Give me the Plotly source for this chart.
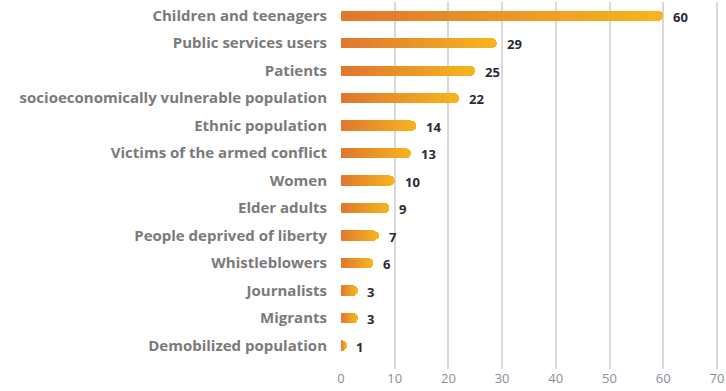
import plotly.graph_objects as go

# Categories listed bottom-to-top (first item sits at the bottom of the chart)
groups = [
    "Demobilized population",
    "Migrants",
    "Journalists",
    "Whistleblowers",
    "People deprived of liberty",
    "Elder adults",
    "Women",
    "Victims of the armed conflict",
    "Ethnic population",
    "socioeconomically vulnerable population",
    "Patients",
    "Public services users",
    "Children and teenagers",
]
counts = [1, 3, 3, 6, 7, 9, 10, 13, 14, 22, 25, 29, 60]
x_ticks = [0, 10, 20, 30, 40, 50, 60, 70]

# Horizontal gradient along each bar: stacked slices, orange -> amber
n_steps = 24
c_start = (224, 120, 46)
c_end = (246, 180, 30)


def blend(t):
    r, g, b = (round(a + (bb - a) * t) for a, bb in zip(c_start, c_end))
    return f"rgb({r},{g},{b})"


fig = go.Figure()
for k in range(n_steps):
    fig.add_trace(go.Bar(
        y=groups,
        x=[v / n_steps for v in counts],
        orientation="h",
        marker=dict(color=blend(k / (n_steps - 1)), line=dict(width=0)),
        hoverinfo="skip",
        showlegend=False,
    ))

# Value labels to the right of each bar
for g, v in zip(groups, counts):
    fig.add_annotation(
        x=v, y=g, text=f"<b>{v}</b>", showarrow=False,
        xanchor="left", xshift=8, yshift=-1,
        font=dict(family="Open Sans", size=13, color="#2a2a35"),
    )

fig.update_layout(
    width=726, height=391,
    margin=dict(l=341, r=8, t=2, b=22, autoexpand=False),
    paper_bgcolor="white", plot_bgcolor="white",
    barmode="stack", bargap=0.62, barcornerradius=5,
    font=dict(family="Open Sans"),
)
fig.update_xaxes(
    range=[0, 70.2], tickvals=x_ticks, automargin=False,
    showgrid=True, gridcolor="#d9d9d9", gridwidth=1.5,
    zeroline=False, showline=False, ticks="",
    tickfont=dict(family="Open Sans", size=13, color="#8a8d99"),
)
fig.update_yaxes(
    categoryorder="array", categoryarray=groups,
    range=[-0.85, 12.5], automargin=False,
    showgrid=False, zeroline=False, showline=False, ticks="",
    ticklabelstandoff=13,
    tickfont=dict(family="Open Sans", size=15, color="#7a7a7a", weight="bold"),
)

fig.write_html("out.html")
